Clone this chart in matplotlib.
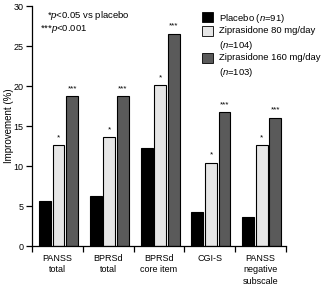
import matplotlib
matplotlib.use("Agg")
import matplotlib.pyplot as plt
from matplotlib.patches import Rectangle
import numpy as np

plt.rcParams['font.family'] = ['Liberation Sans', 'DejaVu Sans']
plt.rcParams['mathtext.fontset'] = 'custom'
plt.rcParams['mathtext.rm'] = 'Liberation Sans'
plt.rcParams['mathtext.it'] = 'Liberation Sans:italic'

categories = ["PANSS\ntotal", "BPRSd\ntotal", "BPRSd\ncore item", "CGI-S", "PANSS\nnegative\nsubscale"]
placebo = [5.6, 6.2, 12.2, 4.3, 3.6]
zip80 = [12.6, 13.6, 20.1, 10.4, 12.6]
zip160 = [18.7, 18.7, 26.5, 16.7, 16.0]
stars80 = ["*", "*", "*", "*", "*"]
stars160 = ["***", "***", "***", "***", "***"]
legend_labels = ["Placebo ($\\mathit{n}$=91)",
                 "Ziprasidone 80 mg/day\n($\\mathit{n}$=104)",
                 "Ziprasidone 160 mg/day\n($\\mathit{n}$=103)"]
yticks = [0, 5, 10, 15, 20, 25, 30]

W, H = 325, 287
fig = plt.figure(figsize=(W / 100, H / 100), dpi=100)
ax = fig.add_axes([32 / W, 1 - 246 / H, (286 - 32) / W, 240 / H])

n = len(categories)
x = np.arange(n)
bw = 0.235
offs = [0.255, 0.522, 0.789]
colors = ["black", "#e6e6e6", "#5a5a5a"]
series = [placebo, zip80, zip160]
for s, o, c in zip(series, offs, colors):
    ax.bar(x + o, s, width=bw, color=c, edgecolor="black", linewidth=0.8)

for xi, v, st in zip(x, zip80, stars80):
    ax.annotate(st, (xi + offs[1], v), xytext=(0, 3), textcoords="offset points",
                ha="center", va="bottom", fontsize=5.8)
for xi, v, st in zip(x, zip160, stars160):
    ax.annotate(st, (xi + offs[2], v), xytext=(0, 3), textcoords="offset points",
                ha="center", va="bottom", fontsize=5.8)

ax.set_xlim(0, n)
ax.set_ylim(0, 30)
ax.set_yticks(yticks)
ax.set_yticklabels([str(t) for t in yticks], fontsize=6.5)
ax.set_xticks(np.arange(n + 1))
ax.set_xticklabels([])
ax.set_xticks(x + 0.5, minor=True)
ax.set_xticklabels(categories, minor=True, fontsize=6.5, linespacing=1.3)
ax.tick_params(axis="x", which="minor", length=0, pad=6)
ax.tick_params(axis="x", which="major", length=4, width=0.9, direction="out")
ax.tick_params(axis="y", length=4.5, width=0.9, direction="out", pad=1.5)
for sp in ["top", "right"]:
    ax.spines[sp].set_visible(False)
for sp in ["left", "bottom"]:
    ax.spines[sp].set_linewidth(0.9)
ax.set_ylabel("Improvement (%)", fontsize=7)
ax.yaxis.set_label_coords(-0.07, 0.5)

# significance key
fig.text(47 / W, 1 - 16 / H, "*$\\mathit{p}$<0.05 vs placebo", fontsize=6.8, va="center", ha="left")
fig.text(40 / W, 1 - 29 / H, "***$\\mathit{p}$<0.001", fontsize=6.8, va="center", ha="left")

# legend (manual)
sq_y = [12, 26, 53]
txt_y = [17, 31, 58]
for c, yy, ty, lab in zip(colors, sq_y, txt_y, legend_labels):
    fig.patches.append(Rectangle((202 / W, 1 - (yy + 10) / H), 11 / W, 10 / H,
                                 transform=fig.transFigure, facecolor=c,
                                 edgecolor="black", linewidth=0.6))
    fig.text(219 / W, 1 - (ty - 5) / H, lab, fontsize=6.8, va="top", ha="left",
             linespacing=1.4)

fig.savefig("out.png", dpi=100)
